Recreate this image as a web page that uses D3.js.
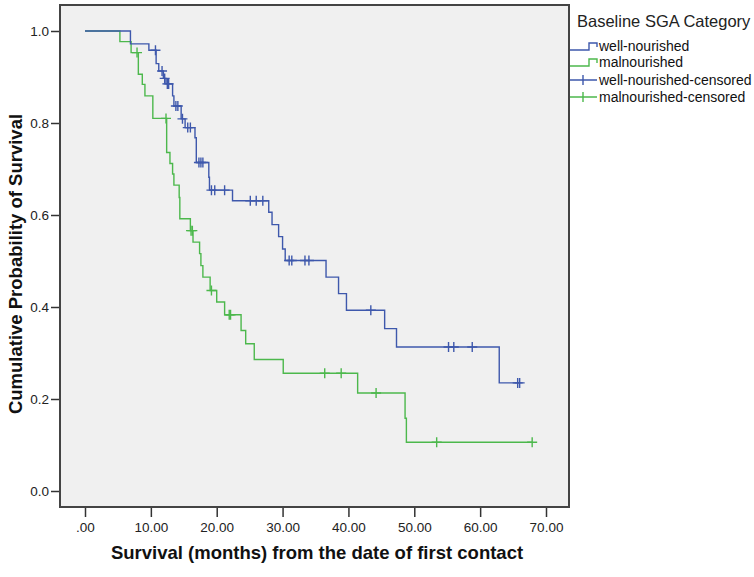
<!DOCTYPE html>
<html>
<head>
<meta charset="utf-8">
<script src="https://cdn.jsdelivr.net/npm/d3@7"></script>
<style>
  html, body { margin: 0; padding: 0; background: #fff; }
  svg { display: block; font-family: "Liberation Sans", Arial, sans-serif; }
</style>
</head>
<body>
<svg id="chart" width="754" height="577"></svg>
<script>
// ---- Data ----
const groups = ["well-nourished", "malnourished"];
const legendLabels = ["well-nourished", "malnourished", "well-nourished-censored", "malnourished-censored"];

// well-nourished: event times (months) and survival after each step
const wellTimes = [6.9, 9.7, 10.8, 11.2, 11.9, 12.3, 13.3, 13.5, 14.6, 15.2, 16.7, 16.9, 18.8, 18.9, 22.4, 27.9, 28.4, 29.4, 30.0, 30.4, 36.6, 38.5, 39.7, 45.5, 47.3, 62.9];
const wellSurv  = [0.972, 0.958, 0.929, 0.913, 0.897, 0.885, 0.859, 0.837, 0.809, 0.790, 0.768, 0.714, 0.682, 0.654, 0.631, 0.606, 0.579, 0.553, 0.526, 0.501, 0.465, 0.429, 0.393, 0.353, 0.313, 0.235];
const wellCensored = [10.7, 11.7, 12.1, 12.5, 12.7, 13.8, 14.1, 14.8, 15.6, 16.0, 17.3, 17.6, 17.9, 19.2, 19.7, 21.2, 25.1, 26.0, 27.0, 31.0, 31.4, 33.4, 34.0, 43.4, 55.2, 56.0, 58.8, 65.7, 66.0];

// malnourished
const malTimes = [5.3, 7.0, 8.1, 8.7, 9.1, 10.3, 12.4, 12.9, 13.3, 13.5, 14.3, 14.4, 16.0, 16.4, 17.4, 17.6, 17.9, 19.0, 20.0, 21.2, 23.7, 24.4, 25.7, 30.1, 41.4, 48.6, 48.8];
const malSurv  = [0.977, 0.953, 0.906, 0.884, 0.859, 0.810, 0.736, 0.712, 0.689, 0.665, 0.638, 0.592, 0.566, 0.541, 0.516, 0.490, 0.465, 0.436, 0.411, 0.383, 0.349, 0.320, 0.286, 0.256, 0.213, 0.158, 0.106];
const malCensored = [7.9, 12.3, 16.1, 16.3, 19.2, 21.9, 22.1, 36.4, 38.9, 44.2, 53.4, 67.9];

const xTicks = [0, 10, 20, 30, 40, 50, 60, 70];
const yTicks = [0, 0.2, 0.4, 0.6, 0.8, 1.0];

const colors = { "well-nourished": "#3e58ac", "malnourished": "#4cb84c" };

// ---- Layout ----
const frame = { left: 60, top: 5, right: 569, bottom: 507 };
const svg = d3.select("#chart");

const x = d3.scaleLinear().domain([0, 70]).range([85, 546]);
const y = d3.scaleLinear().domain([0, 1]).range([491, 31]);

// plot background
svg.append("rect")
  .attr("x", frame.left).attr("y", frame.top)
  .attr("width", frame.right - frame.left).attr("height", frame.bottom - frame.top)
  .attr("fill", "#f0f0f0");

// axes
const yAxis = d3.axisLeft(y).tickValues(yTicks).tickFormat(d3.format(".1f")).tickSize(9).tickPadding(2);
const gy = svg.append("g").attr("transform", `translate(${frame.left},0)`).call(yAxis);
gy.select(".domain").remove();
gy.selectAll(".tick line").attr("stroke", "#333").attr("stroke-width", 1.5);
gy.selectAll(".tick text").attr("font-size", 13.5).attr("fill", "#222")
  .attr("font-family", "'Liberation Sans', Arial, sans-serif");

const xAxis = d3.axisBottom(x).tickValues(xTicks)
  .tickFormat(d => d === 0 ? ".00" : d3.format(".2f")(d)).tickSize(9).tickPadding(5);
const gx = svg.append("g").attr("transform", `translate(0,${frame.bottom + 1})`).call(xAxis);
gx.select(".domain").remove();
gx.selectAll(".tick line").attr("stroke", "#333").attr("stroke-width", 1.5);
gx.selectAll(".tick text").attr("font-size", 13.5).attr("fill", "#222")
  .attr("font-family", "'Liberation Sans', Arial, sans-serif");

// survival step function helper
function survAt(times, surv, t) {
  let s = 1;
  for (let i = 0; i < times.length; i++) { if (times[i] <= t) s = surv[i]; }
  return s;
}

const line = d3.line().x(d => x(d[0])).y(d => y(d[1])).curve(d3.curveStepAfter);

const series = [
  { name: "malnourished", times: malTimes, surv: malSurv, cens: malCensored },
  { name: "well-nourished", times: wellTimes, surv: wellSurv, cens: wellCensored }
];

series.forEach(s => {
  const endT = Math.max(s.times[s.times.length - 1], d3.max(s.cens));
  const pts = [[0, 1]].concat(s.times.map((t, i) => [t, s.surv[i]]));
  pts.push([endT, survAt(s.times, s.surv, endT)]);
  svg.append("path").datum(pts)
    .attr("d", line)
    .attr("fill", "none")
    .attr("stroke", colors[s.name])
    .attr("stroke-width", 1.4);

  svg.append("g").selectAll("path.cens").data(s.cens).join("path")
    .attr("class", "cens")
    .attr("d", t => {
      const cx = x(t), cy = y(survAt(s.times, s.surv, t));
      return `M${cx - 5},${cy}H${cx + 5}M${cx},${cy - 5}V${cy + 5}`;
    })
    .attr("fill", "none")
    .attr("stroke", colors[s.name])
    .attr("stroke-width", 1.4);
});

// frame
svg.append("rect")
  .attr("x", frame.left).attr("y", frame.top)
  .attr("width", frame.right - frame.left).attr("height", frame.bottom - frame.top)
  .attr("fill", "none").attr("stroke", "#444").attr("stroke-width", 2);

// axis titles
svg.append("text")
  .attr("x", 317).attr("y", 559)
  .attr("text-anchor", "middle")
  .attr("font-size", 18.5).attr("font-weight", "bold").attr("fill", "#111")
  .text("Survival (months) from the date of first contact");

svg.append("text")
  .attr("transform", `translate(22,264) rotate(-90)`)
  .attr("text-anchor", "middle")
  .attr("font-size", 18.5).attr("font-weight", "bold").attr("fill", "#111")
  .text("Cumulative Probability of Survival");

// legend
const lg = svg.append("g");
lg.append("text").attr("x", 577).attr("y", 27)
  .attr("font-size", 16.5).attr("fill", "#222").text("Baseline SGA Category");

const legendColors = [colors["well-nourished"], colors["malnourished"], colors["well-nourished"], colors["malnourished"]];
const legendY = [46, 62, 80, 97];
legendLabels.forEach((lab, i) => {
  const ly = legendY[i];
  const c = legendColors[i];
  if (i < 2) {
    lg.append("path")
      .attr("d", `M570,${ly + 4}H589V${ly - 3}H597V${ly + 1}`)
      .attr("fill", "none").attr("stroke", c).attr("stroke-width", 1.4);
  } else {
    lg.append("path")
      .attr("d", `M570,${ly}H597M583,${ly - 5}V${ly + 5}`)
      .attr("fill", "none").attr("stroke", c).attr("stroke-width", 1.4);
  }
  lg.append("text").attr("x", 599).attr("y", ly + 4.5)
    .attr("font-size", 14).attr("fill", "#111").text(lab);
});
</script>
</body>
</html>
